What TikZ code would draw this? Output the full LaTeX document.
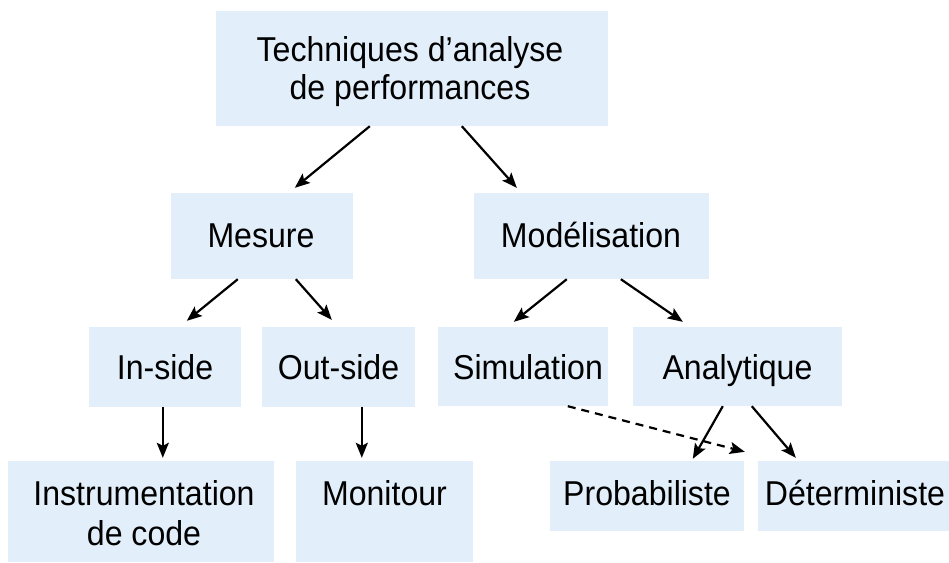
\documentclass[tikz,border=0pt]{standalone}
\usepackage{fontspec}
\setmainfont{Liberation Sans}[FakeStretch=0.93]
\usetikzlibrary{arrows.meta,calc}
\definecolor{boxblue}{HTML}{E2EFFB}
\begin{document}
\begin{tikzpicture}[x=1pt,y=-1pt,
  box/.style={fill=boxblue, draw=none, inner sep=0pt, rectangle},
  lbl/.style={anchor=base, inner sep=0pt, font=\fontsize{34.5}{36.5}\selectfont},
  conn/.style={line width=2.2pt, -{Stealth[length=15pt,width=12pt,inset=3pt]}},
  dconn/.style={conn, dash pattern=on 8pt off 6pt}]
\useasboundingbox (0,0) rectangle (949,562);
\fill[white] (0,0) rectangle (949,562);
% boxes
\node[box, minimum width=392pt, minimum height=115pt] (top) at (412,68.5) {};
\node[box, minimum width=182pt, minimum height=86pt] (mesure) at (262,236) {};
\node[box, minimum width=235pt, minimum height=86pt] (model) at (591.5,236) {};
\node[box, minimum width=152pt, minimum height=80pt] (inside) at (165,367) {};
\node[box, minimum width=153pt, minimum height=80pt] (outside) at (338.5,367) {};
\node[box, minimum width=170pt, minimum height=79pt] (simul) at (523,366.5) {};
\node[box, minimum width=209pt, minimum height=79pt] (analyt) at (737.5,366.5) {};
\node[box, minimum width=266pt, minimum height=101pt] (instr) at (141,511.5) {};
\node[box, minimum width=177pt, minimum height=101pt] (monit) at (384.5,511.5) {};
\node[box, minimum width=194pt, minimum height=70pt] (proba) at (647,496) {};
\node[box, minimum width=191pt, minimum height=70pt] (determ) at (853.5,496) {};
% texts
\node[lbl] (ttop1) at (410,61) {Techniques d’analyse};
\node[lbl] (ttop2) at (410,99) {de performances};
\node[lbl] (tmesure) at (261,247) {Mesure};
\node[lbl] (tmodel) at (591,247) {Modélisation};
\node[lbl] (tinside) at (165,379) {In-side};
\node[lbl] (toutside) at (338.5,379) {Out-side};
\node[lbl] (tsimul) at (528,379) {Simulation};
\node[lbl] (tanalyt) at (737.5,379) {Analytique};
\node[lbl] (tinstr1) at (144,505) {Instrumentation};
\node[lbl] (tinstr2) at (144,545) {de code};
\node[lbl] (tmonit) at (384.5,505) {Monitour};
\node[lbl] (tproba) at (647,505) {Probabiliste};
\node[lbl] (tdeterm) at (855,505) {Déterministe};
% connectors
\draw[conn] ($(top.south west)+(154,0)$) -- ($(mesure.north west)+(124,-5)$);
\draw[conn] ($(top.south west)+(246,0)$) -- ($(model.north west)+(43,-5)$);
\draw[conn] ($(mesure.south west)+(67,0)$) -- ($(inside.north west)+(98,-6)$);
\draw[conn] ($(mesure.south west)+(125,0)$) -- ($(outside.north west)+(70,-7)$);
\draw[conn] ($(model.south west)+(93,0)$) -- ($(simul.north west)+(76,-5)$);
\draw[conn] ($(model.south west)+(147,0)$) -- ($(analyt.north west)+(50,-5)$);
\draw[conn] ($(inside.south west)+(74,0)$) -- ($(instr.north west)+(155,-3)$);
\draw[conn] ($(outside.south west)+(100,0)$) -- ($(monit.north west)+(66,-3)$);
\draw[conn] ($(analyt.south west)+(90,0)$) -- ($(proba.north west)+(143,-2)$);
\draw[conn] ($(analyt.south west)+(119,0)$) -- ($(determ.north west)+(38,-3)$);
\draw[dconn] ($(simul.south west)+(130,0)$) -- ($(determ.north west)+(-13,-9)$);
\end{tikzpicture}
\end{document}
